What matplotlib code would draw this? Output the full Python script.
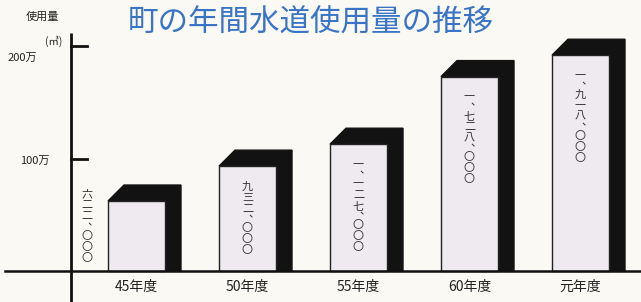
import matplotlib
matplotlib.use("Agg")
import matplotlib.pyplot as plt
from matplotlib.patches import Polygon

plt.rcParams['font.family'] = ['Noto Sans CJK JP', 'DejaVu Sans']

# data
years = ['45年度', '50年度', '55年度', '60年度', '元年度']
usage = [622000, 932000, 1127000, 1728000, 1918000]
labels_kanji = ['六二二、〇〇〇', '九三二、〇〇〇', '一、一二七、〇〇〇',
                '一、七二八、〇〇〇', '一、九一八、〇〇〇']
yticks = [1000000, 2000000]
ytick_labels = ['100万', '200万']

# pixel layout helpers (figure is 641x302 px)
XS, X0 = 111.0, 136.5     # px per category, px of first bar center
YS, Y0 = 112.5, 271.0     # px per million, px of baseline (from top)

def px(x):
    return (x - X0) / XS

def py(y):
    return (Y0 - y) / YS

paper = '#fbf9f4'
front = '#eeeaf0'
ink = '#222222'

fig = plt.figure(figsize=(6.41, 3.02), dpi=100, facecolor=paper)
ax = fig.add_axes([0, 0, 1, 1])
ax.set_facecolor(paper)
ax.set_xlim(px(0), px(641))
ax.set_ylim(py(302), py(0))
ax.axis('off')

vals = [v / 1e6 for v in usage]
w = 57 / XS
dx, dy = 16 / XS, 16 / YS

# 3D shadows
for i, v in enumerate(vals):
    L, R = i - w / 2, i + w / 2
    poly = Polygon([(L, v), (L + dx, v + dy), (R + dx, v + dy), (R + dx, 0), (R, 0), (R, v)],
                   closed=True, facecolor='#121212', edgecolor='#121212', zorder=2)
    ax.add_patch(poly)

ax.bar(range(len(vals)), vals, width=w, color=front, edgecolor=ink,
       linewidth=1.0, zorder=3)

# axes lines
ax_x = px(70.5)
ax.plot([ax_x, ax_x], [py(302), py(33)], color='#111111', lw=2, zorder=4,
        solid_capstyle='butt')
ax.plot([px(5), px(641)], [0, 0], color='#111111', lw=1.8, zorder=4)
for t in yticks:
    ax.plot([ax_x, ax_x + 16 / XS], [t / 1e6, t / 1e6], color='#111111', lw=2, zorder=4)

ax.text(px(35), py(161), ytick_labels[0], ha='center', va='center', fontsize=8, color=ink)
ax.text(px(22), py(58), ytick_labels[1], ha='center', va='center', fontsize=8, color=ink)
ax.text(px(42), py(17), '使用量', ha='center', va='center', fontsize=8, color=ink)
ax.text(px(54), py(41), '(㎥)', ha='center', va='center', fontsize=7.5, color=ink)

# title
ax.text(px(311), py(23), '町の年間水道使用量の推移', ha='center', va='center',
        fontsize=22, color='#3a74c6', fontweight='normal')

# x labels
for i, y in enumerate(years):
    ax.text(i, py(287), y, ha='center', va='center', fontsize=10, color=ink)


# vertical value labels, one character at a time
def vtext(x, top_px, s):
    ypos = top_px
    for ch in s:
        if ch == '、':
            # vertical comma sits in the upper right of its cell
            ax.text(x + 6 / XS, py(ypos), ch, ha='center', va='center',
                    fontsize=8, color='#333333', zorder=5)
            ypos += 8
        else:
            ax.text(x, py(ypos + 5.5), ch, ha='center', va='center',
                    fontsize=8, color='#333333', zorder=5)
            ypos += 11


for i, (v, s) in enumerate(zip(vals, labels_kanji)):
    top_px = Y0 - v * YS
    if i == 0:
        vtext(px(87), top_px - 12, s)
    else:
        vtext(i, top_px + 15, s)

fig.savefig('out.png', dpi=100, facecolor=paper)
